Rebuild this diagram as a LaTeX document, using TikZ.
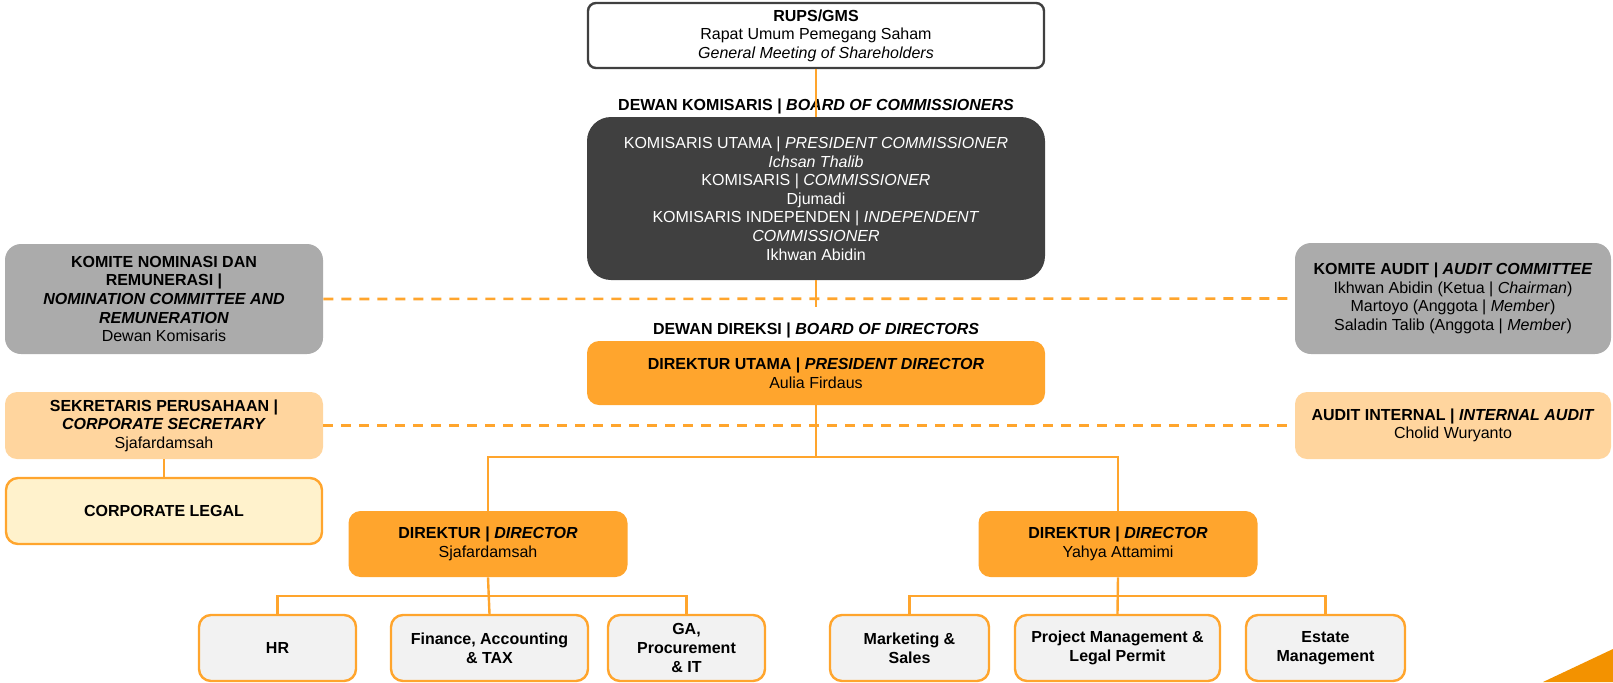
\documentclass[tikz,border=0pt]{standalone}
\usepackage{fontspec}
\setmainfont{Liberation Sans}
\definecolor{orgline}{HTML}{FFA52D}
\definecolor{orgfill}{HTML}{FFA52D}
\definecolor{dkgray}{HTML}{404040}
\definecolor{midgray}{HTML}{ABABAB}
\definecolor{lightorg}{HTML}{FFD59E}
\definecolor{paleyel}{HTML}{FFF2CC}
\definecolor{subfill}{HTML}{F2F2F2}
\definecolor{cornerorg}{HTML}{F39200}
\tikzset{
  box/.style={rounded corners=6pt, align=center, inner sep=2pt, font=\fontsize{8}{9.3}\selectfont},
  subbox/.style={box, fill=subfill, draw=orgline, line width=1.2pt, minimum height=33pt, font=\fontsize{8}{9.3}\selectfont\bfseries},
  dirbox/.style={box, fill=orgfill, minimum width=139.5pt, minimum height=33pt},
  lbl/.style={font=\fontsize{8}{9.3}\selectfont\bfseries, inner sep=0pt},
  conn/.style={orgline, line width=1.2pt},
  dashline/.style={orgline, line width=1.3pt, dash pattern=on 5pt off 4pt}
}
\begin{document}
\begin{tikzpicture}[x=0.5pt,y=-0.5pt]
  \useasboundingbox (0,0) rectangle (1613,682);
  \node[box, draw=dkgray, line width=1.2pt, rounded corners=4pt, minimum width=228pt, minimum height=32.5pt] (rups) at (816,35.5)
    {\textbf{RUPS/GMS}\\Rapat Umum Pemegang Saham\\\textit{General Meeting of Shareholders}};
  \node[lbl] (lblkom) at (816,106) {DEWAN KOMISARIS | \textit{BOARD OF COMMISSIONERS}};
  \node[box, fill=dkgray, text=white, rounded corners=12pt, minimum width=229pt, minimum height=81.5pt] (dekom) at (816,198.5)
    {KOMISARIS UTAMA | \textit{PRESIDENT COMMISSIONER}\\\textit{Ichsan Thalib}\\KOMISARIS | \textit{COMMISSIONER}\\Djumadi\\
     KOMISARIS INDEPENDEN | \textit{INDEPENDENT}\\\textit{COMMISSIONER}\\Ikhwan Abidin};
  \node[lbl] (lbldir) at (816,330) {DEWAN DIREKSI | \textit{BOARD OF DIRECTORS}};
  \node[box, fill=orgfill, minimum width=229pt, minimum height=32pt] (dirut) at (816,373)
    {\textbf{DIREKTUR UTAMA | \textit{PRESIDENT DIRECTOR}}\\Aulia Firdaus};

  \node[box, fill=midgray, rounded corners=8pt, minimum width=159pt, minimum height=55pt] (knr) at (164,299)
    {\textbf{KOMITE NOMINASI DAN}\\\textbf{REMUNERASI |}\\\textbf{\textit{NOMINATION COMMITTEE AND}}\\\textbf{\textit{REMUNERATION}}\\Dewan Komisaris};
  \node[box, fill=lightorg, minimum width=159pt, minimum height=33.5pt] (sekper) at (164,425.5)
    {\textbf{SEKRETARIS PERUSAHAAN |}\\\textbf{\textit{CORPORATE SECRETARY}}\\Sjafardamsah};
  \node[box, fill=paleyel, draw=orgline, line width=1.2pt, minimum width=158pt, minimum height=33pt] (legal) at (164,511)
    {\textbf{CORPORATE LEGAL}};
  \node[box, fill=midgray, rounded corners=8pt, minimum width=158pt, minimum height=55.5pt] (komaud) at (1453,298.5)
    {\textbf{KOMITE AUDIT \textit{| AUDIT COMMITTEE}}\\Ikhwan Abidin (Ketua | \textit{Chairman})\\Martoyo (Anggota | \textit{Member})\\Saladin Talib (Anggota | \textit{Member})};
  \node[box, fill=lightorg, minimum width=158pt, minimum height=33.5pt] (audint) at (1453,425.5)
    {\textbf{AUDIT INTERNAL | \textit{INTERNAL AUDIT}}\\Cholid Wuryanto};

  \node[dirbox] (dir1) at (488,544) {\textbf{DIREKTUR | \textit{DIRECTOR}}\\Sjafardamsah};
  \node[dirbox] (dir2) at (1118,544) {\textbf{DIREKTUR | \textit{DIRECTOR}}\\Yahya Attamimi};

  \node[subbox, minimum width=78.5pt] (hr) at (277.5,648) {HR};
  \node[subbox, minimum width=98.5pt] (fin) at (489.5,648) {Finance, Accounting\\\& TAX};
  \node[subbox, minimum width=78.5pt] (ga) at (686.5,648) {GA,\\Procurement\\\& IT};
  \node[subbox, minimum width=79.5pt] (mkt) at (909.5,648) {Marketing \&\\Sales};
  \node[subbox, minimum width=102.5pt] (pm) at (1117.5,648) {Project Management \&\\Legal Permit};
  \node[subbox, minimum width=79.5pt] (est) at (1325.5,648) {Estate\\Management};

  \coordinate (kt) at (816,307);
  \coordinate (bus) at (816,457);
  \coordinate (b1) at (488,596);
  \coordinate (b2) at (1118,596);

  \draw[conn] (rups.south) -- (dekom.north);
  \draw[dashline] (knr.east) -- (komaud.west);
  \draw[conn] (dekom.south) -- (kt);
  \draw[dashline] (sekper.east) -- (audint.west);
  \draw[conn] (dirut.south) -- (bus);
  \draw[conn] (dir1.north) |- (bus) -| (dir2.north);
  \draw[conn] (sekper.south) -- (legal.north);
  \draw[conn] (dir1.south) -- (fin.north);
  \draw[conn] (hr.north) |- (b1) -| (ga.north);
  \draw[conn] (dir2.south) -- (pm.north);
  \draw[conn] (mkt.north) |- (b2) -| (est.north);

  \fill[cornerorg] (1543,682) -- (1613,649) -- (1613,682) -- cycle;
\end{tikzpicture}
\end{document}
